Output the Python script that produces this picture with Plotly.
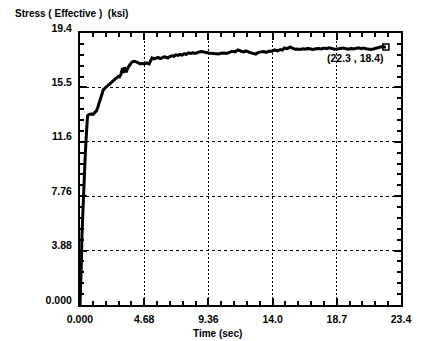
import plotly.graph_objects as go

time_sec = [0.00,0.05,0.10,0.14,0.20,0.28,0.36,0.44,0.50,0.55,0.65,0.80,0.95,1.08,1.20,1.30,1.40,1.50,1.60,1.70,
            1.80,1.94,2.05,2.15,2.25,2.35,2.45,2.55,2.66,2.78,2.88,2.98,3.05,3.10,3.18,3.25,3.32,3.38,3.45,3.52,
            3.60,3.70,3.82,3.95,4.10,4.25,4.40,4.55,4.70,4.85,5.04,5.15,5.26,5.40,5.55,5.70,5.85,6.00,6.15,6.26,
            6.40,6.55,6.70,6.85,6.98,7.15,7.30,7.45,7.60,7.75,7.92,8.10,8.25,8.40,8.55,8.70,8.86,9.00,9.20,9.36,
            9.55,9.75,9.90,10.08,10.30,10.50,10.70,10.90,11.10,11.30,11.52,11.75,11.95,12.10,12.24,12.40,12.60,12.82,13.00,13.18,
            13.40,13.60,13.80,14.00,14.18,14.40,14.60,14.75,14.90,15.10,15.34,15.50,15.70,15.84,16.05,16.25,16.45,16.60,16.78,17.00,
            17.20,17.40,17.60,17.78,17.95,18.15,18.35,18.55,18.72,18.90,19.05,19.22,19.40,19.60,19.75,19.94,20.10,20.30,20.50,20.66,
            20.85,21.00,21.20,21.38,21.55,21.75,21.95,22.10,22.30]

stress_ksi = [0.00,1.20,3.00,4.90,6.80,8.70,10.20,11.80,12.90,13.50,13.58,13.62,13.60,13.72,13.85,14.10,14.40,14.65,15.10,15.35,
              15.45,15.56,15.62,15.75,15.85,15.95,16.05,16.12,16.20,16.30,16.27,16.45,16.70,16.90,16.55,16.95,16.75,16.60,16.85,16.98,
              17.10,17.22,17.34,17.38,17.34,17.28,17.20,17.24,17.18,17.26,17.20,17.42,17.62,17.55,17.60,17.66,17.58,17.64,17.70,17.68,
              17.62,17.72,17.78,17.74,17.84,17.80,17.88,17.82,17.92,17.88,17.98,17.94,17.99,17.95,18.02,18.05,18.08,18.04,18.00,17.98,
              17.95,17.92,17.94,17.90,17.95,17.98,17.94,18.05,18.10,18.06,18.19,18.10,18.05,18.12,18.05,18.00,17.95,17.90,18.02,18.05,
              18.08,18.02,18.12,18.10,18.19,18.12,18.22,18.18,18.33,18.28,18.40,18.30,18.24,18.26,18.22,18.28,18.24,18.30,18.26,18.22,
              18.27,18.30,18.26,18.33,18.28,18.34,18.30,18.24,18.26,18.30,18.28,18.33,18.27,18.24,18.30,18.26,18.30,18.34,18.28,18.33,
              18.28,18.24,18.22,18.26,18.30,18.35,18.42,18.40,18.40]

end_point = (22.3, 18.4)
end_label = "(22.3 , 18.4)"

x_tickvals = [0, 4.68, 9.36, 14.04, 18.72, 23.4]
x_ticktext = ["0.000", "4.68", "9.36", "14.0", "18.7", "23.4"]
y_tickvals = [0, 3.88, 7.76, 11.64, 15.52, 19.4]
y_ticktext = ["0.000", "3.88", "7.76", "11.6", "15.5", "19.4"]

y_title = "Stress ( Effective )  (ksi)"
x_title = "Time (sec)"

FONT = "Liberation Sans, Arial, sans-serif"

fig = go.Figure()
fig.add_trace(go.Scatter(x=time_sec, y=stress_ksi, mode="lines",
                         line=dict(color="black", width=3), showlegend=False, hoverinfo="skip"))
fig.add_trace(go.Scatter(x=[end_point[0]], y=[end_point[1]], mode="markers",
                         marker=dict(symbol="square-open", size=6, color="black", line=dict(width=1.6)),
                         showlegend=False, hoverinfo="skip"))

axis_common = dict(
    showline=True, linecolor="black", linewidth=2, mirror="allticks",
    ticks="inside", ticklen=7, tickwidth=2, tickcolor="black",
    showgrid=True, gridcolor="black", gridwidth=1,
    zeroline=False, tickmode="array",
    tickfont=dict(family=FONT, size=10.5, color="black", weight="bold"),
)

fig.update_xaxes(range=[0, 23.4], tickvals=x_tickvals, ticktext=x_ticktext,
                 griddash="2px,2px", ticklabelstandoff=3,
                 minor=dict(tick0=0, dtick=0.936, ticks="inside", ticklen=4, tickwidth=1.5,
                            tickcolor="black", showgrid=False),
                 **axis_common)
fig.update_yaxes(range=[0, 19.4], tickvals=y_tickvals, ticktext=y_ticktext,
                 griddash="3px,3px", ticklabelstandoff=4, ticklabelshift=-5,
                 minor=dict(tick0=0, dtick=0.776, ticks="inside", ticklen=4, tickwidth=1.5,
                            tickcolor="black", showgrid=False),
                 **axis_common)

fig.add_annotation(x=end_point[0], y=end_point[1], text=end_label, showarrow=False,
                   xanchor="right", yanchor="top", yshift=-3, xshift=0,
                   font=dict(family=FONT, size=10.5, color="black", weight="bold"))
fig.add_annotation(xref="paper", yref="paper", x=-0.2074, y=1.07, text=y_title, showarrow=False,
                   xanchor="left", yanchor="middle",
                   font=dict(family=FONT, size=10, color="black", weight="bold"))
fig.add_annotation(xref="paper", yref="paper", x=0.427, y=-0.103, text=x_title, showarrow=False,
                   xanchor="center", yanchor="middle",
                   font=dict(family=FONT, size=10, color="black", weight="bold"))

fig.update_layout(width=423, height=341, margin=dict(l=80, r=20, t=33, b=36),
                  plot_bgcolor="white", paper_bgcolor="white")

fig.write_html("out.html", config={"displayModeBar": False},
               post_script="document.body.style.margin='0';document.body.style.overflow='hidden';")
